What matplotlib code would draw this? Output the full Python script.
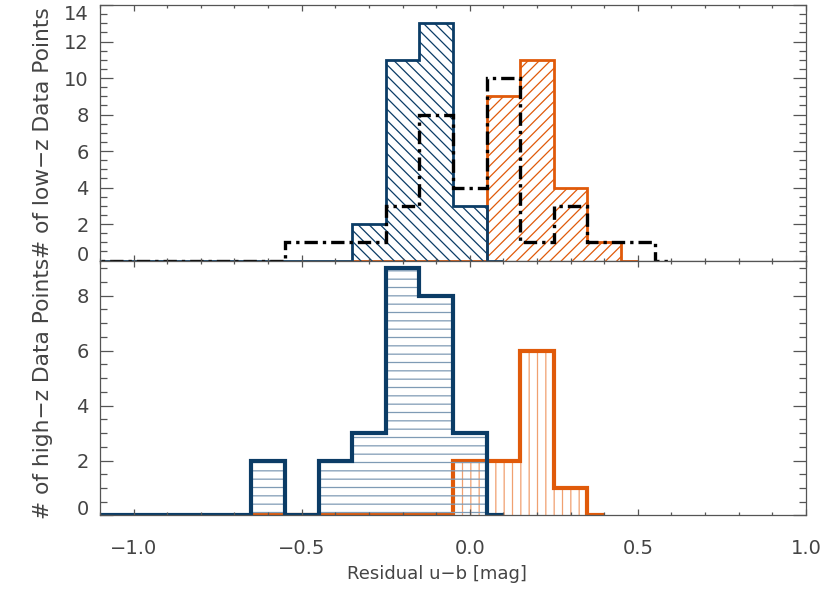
import matplotlib
matplotlib.use("Agg")
import matplotlib.pyplot as plt
from matplotlib.ticker import MultipleLocator
import numpy as np

# low-z sample (top panel)
low_blue_edges = [-1.15, -0.35, -0.25, -0.15, -0.05, 0.05, 0.10]
low_blue_counts = [0, 2, 11, 13, 3, 0]
low_orange_edges = [-0.35, 0.05, 0.15, 0.25, 0.35, 0.45, 0.50]
low_orange_counts = [0, 9, 11, 4, 1, 0]
low_all_edges = [-1.15, -0.55, -0.25, -0.15, -0.05, 0.05, 0.15, 0.25, 0.35, 0.55, 0.60]
low_all_counts = [0, 1, 3, 8, 4, 10, 1, 3, 1, 0]

# high-z sample (bottom panel)
high_blue_edges = [-1.15, -0.65, -0.55, -0.45, -0.35, -0.25, -0.15, -0.05, 0.05, 0.10]
high_blue_counts = [0, 2, 0, 2, 3, 9, 8, 3, 0]
high_orange_edges = [-0.65, -0.05, 0.05, 0.15, 0.25, 0.35, 0.40]
high_orange_counts = [0, 2, 2, 6, 1, 0]

blue = '#0b3c66'
orange = '#e05a0a'
grey = '#555555'
txt = '#444444'

plt.rcParams['hatch.linewidth'] = 0.9
plt.rcParams['font.family'] = 'DejaVu Sans'

fig = plt.figure(figsize=(8.3, 5.93), dpi=100)
ax1 = fig.add_axes([0.1205, 0.5605, 0.8505, 0.4311])
ax2 = fig.add_axes([0.1205, 0.1307, 0.8505, 0.4298], sharex=ax1)


def hist(ax, edges, counts, col, hcol, hatch, lw):
    ax.stairs(counts, edges, fill=True, facecolor='none', edgecolor=hcol,
              hatch=hatch, linewidth=0)
    ax.stairs(counts, edges, color=col, linewidth=lw)


hist(ax1, low_orange_edges, low_orange_counts, orange, orange, '///', 2.0)
hist(ax1, low_blue_edges, low_blue_counts, blue, blue, '\\\\\\', 2.0)
ax1.stairs(low_all_counts, low_all_edges, color='black', linewidth=2.4,
           linestyle=(0, (4, 1.5, 1, 1.5)))

hist(ax2, high_orange_edges, high_orange_counts, orange, '#f0a070', '||', 3.0)
hist(ax2, high_blue_edges, high_blue_counts, blue, '#7f9bb5', '--', 3.0)

ax1.set_xlim(-1.1, 1.0)
ax1.set_yticks(np.arange(0, 15, 2))
ax2.set_yticks(np.arange(0, 9, 2))
ax1.set_ylim(0, 14)
ax2.set_ylim(0, 9.27)

for ax in (ax1, ax2):
    ax.xaxis.set_major_locator(MultipleLocator(0.5))
    ax.xaxis.set_minor_locator(MultipleLocator(0.1))
    ax.yaxis.set_minor_locator(MultipleLocator(0.5))
    ax.tick_params(which='both', direction='in', top=True, right=True,
                   colors=grey, labelcolor=txt, labelsize=14, width=0.9)
    ax.tick_params(axis='x', which='major', length=4.5)
    ax.tick_params(axis='x', which='minor', length=2.5)
    ax.tick_params(axis='y', which='major', length=9.5, pad=8)
    ax.tick_params(axis='y', which='minor', length=5)
    for s in ax.spines.values():
        s.set_color(grey)
        s.set_linewidth(0.9)

ax1.tick_params(axis='x', labelbottom=False)
ax2.tick_params(axis='x', pad=17)

# keep the end labels inside the panels
ax1.yaxis.get_major_ticks()[0].label1.set_verticalalignment('baseline')
ax1.yaxis.get_major_ticks()[-1].label1.set_verticalalignment('top')
ax2.yaxis.get_major_ticks()[0].label1.set_verticalalignment('baseline')

ax1.set_ylabel('# of low\u2212z Data Points', fontsize=15.7, color=txt)
ax2.set_ylabel('# of high\u2212z Data Points', fontsize=15.7, color=txt)
ax1.yaxis.set_label_coords(-0.066, 0.5)
ax2.yaxis.set_label_coords(-0.066, 0.5)
ax2.set_xlabel('Residual u\u2212b [mag]', fontsize=13, color=txt)
ax2.xaxis.set_label_coords(0.477, -0.195)

fig.savefig('out.png', dpi=100)
